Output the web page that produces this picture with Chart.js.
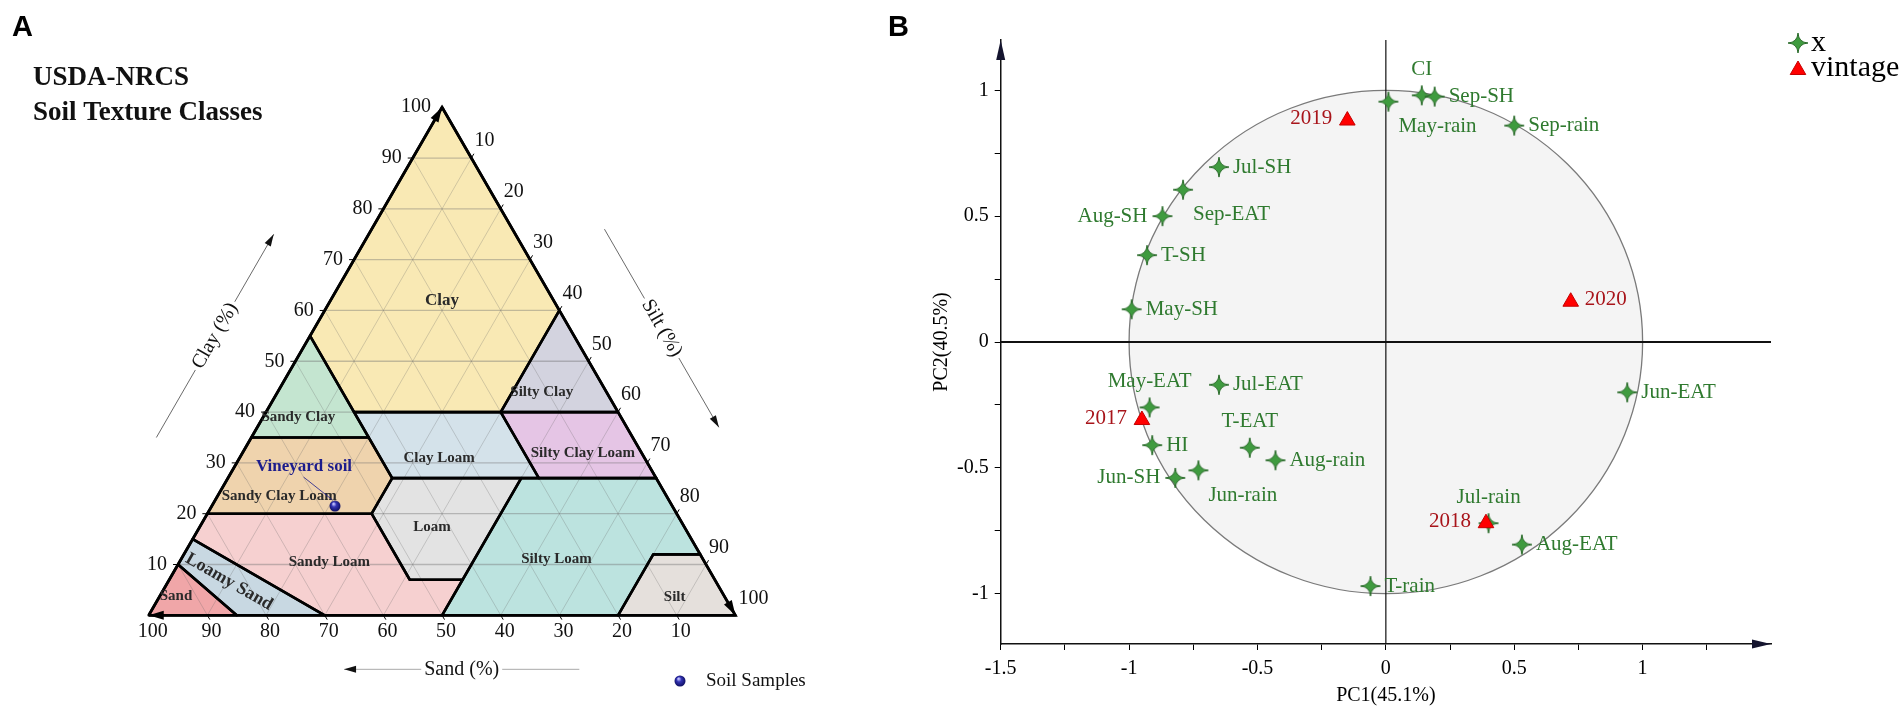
<!DOCTYPE html>
<html>
<head>
<meta charset="utf-8">
<script src="https://cdn.jsdelivr.net/npm/chart.js@4.4.1/dist/chart.umd.min.js"></script>
<style>
  html, body { margin: 0; padding: 0; background: #fff; overflow: hidden; }
  #wrap { position: relative; width: 1904px; height: 712px; }
  #soil { position: absolute; left: 0; top: 0; }
  #pca { position: absolute; left: 880px; top: 0; }
</style>
</head>
<body>
<div id="wrap">
  <canvas id="soil" width="880" height="712"></canvas>
  <canvas id="pca" width="1024" height="712"></canvas>
</div>
<script>
// ---- Panel A: USDA texture classes, vertices given as sand % and clay % (silt is the rest)
const classNames = ['Clay', 'Silty Clay', 'Sandy Clay', 'Clay Loam', 'Silty Clay Loam', 'Sandy Clay Loam',
  'Loam', 'Silty Loam', 'Silt', 'Sandy Loam', 'Loamy Sand', 'Sand'];
const classSand = [[0, 0, 20, 45, 45], [0, 0, 20], [45, 45, 65], [20, 45, 45, 20], [0, 20, 20, 0], [45, 65, 80, 52, 45],
  [45, 52, 52, 43, 23], [0, 23, 50, 20, 8, 0], [0, 8, 20, 0], [80, 52, 52, 43, 50, 70, 85], [85, 70, 85, 90], [90, 85, 100]];
const classClay = [[100, 60, 40, 40, 55], [60, 40, 40], [55, 35, 35], [40, 40, 27, 27], [40, 40, 27, 27], [35, 35, 20, 20, 27],
  [27, 20, 7, 7, 27], [27, 27, 0, 0, 12, 12], [12, 12, 0, 0], [20, 20, 7, 7, 0, 0, 15], [15, 0, 0, 10], [10, 0, 0]];
const classColors = ['#f9e9b4', '#d3d3df', '#c4e5d0', '#d4e2ea', '#e5c5e5', '#efd3ad',
  '#e3e3e3', '#bce3df', '#e5e0dc', '#f6d0d0', '#c8d8e2', '#f0a6a8'];
// where each class name sits (sand %, clay %)
const classLabelSand = [19, 11, 55, 35, 10, 66, 43, 25, 8.6, 64, 83, 93.5];
const classLabelClay = [62, 44, 39, 31, 32, 23.5, 17.4, 11, 3.5, 10.4, 6.6, 3.7];
const ternTicks = [10, 20, 30, 40, 50, 60, 70, 80, 90, 100];
const sampleSand = [57.5];
const sampleClay = [21.5];

// ---- Panel B: PCA loadings and vintages
const varNames = ['CI', 'Sep-SH', 'May-rain', 'Sep-rain', 'Jul-SH', 'Sep-EAT', 'Aug-SH', 'T-SH', 'May-SH', 'May-EAT',
  'Jul-EAT', 'HI', 'T-EAT', 'Aug-rain', 'Jun-SH', 'Jun-rain', 'Jun-EAT', 'Jul-rain', 'Aug-EAT', 'T-rain'];
const varPC1 = [0.14, 0.19, 0.01, 0.50, -0.65, -0.79, -0.87, -0.93, -0.99, -0.92,
  -0.65, -0.91, -0.53, -0.43, -0.82, -0.73, 0.94, 0.40, 0.53, -0.06];
const varPC2 = [0.98, 0.975, 0.955, 0.86, 0.695, 0.605, 0.50, 0.345, 0.13, -0.26,
  -0.17, -0.41, -0.42, -0.47, -0.54, -0.51, -0.20, -0.72, -0.805, -0.97];
const vintageNames = ['2017', '2018', '2019', '2020'];
const vintagePC1 = [-0.95, 0.39, -0.15, 0.72];
const vintagePC2 = [-0.31, -0.72, 0.88, 0.16];
const xTickVals = [-1.5, -1.25, -1, -0.75, -0.5, -0.25, 0, 0.25, 0.5, 0.75, 1, 1.25];
const xTickLabels = [-1.5, -1, -0.5, 0, 0.5, 1];
const yTickVals = [-1, -0.75, -0.5, -0.25, 0, 0.25, 0.5, 0.75, 1];
const yTickLabels = [-1, -0.5, 0, 0.5, 1];

// label placement (style, not data)
const varLabelPos = ['above', 'right', 'belowright', 'right', 'right', 'belowright', 'left', 'right', 'right', 'above',
  'right', 'right', 'above', 'right', 'left', 'belowright', 'right', 'above', 'right', 'right'];
const vintageLabelPos = ['left', 'left', 'left', 'right'];

const SERIF = '"Liberation Serif", "Times New Roman", serif';
const SANS = '"Liberation Sans", Arial, sans-serif';
const H = Math.sqrt(3) / 2;
const toXY = (sand, clay) => ({ x: 100 - sand - clay / 2, y: clay * H });

function makeStar(size, fill, stroke) {
  const c = document.createElement('canvas');
  c.width = c.height = size;
  const g = c.getContext('2d');
  const m = size / 2, r = size / 2 - 1, k = r * 0.06;
  g.beginPath();
  g.moveTo(m, m - r);
  g.quadraticCurveTo(m + k, m - k, m + r, m);
  g.quadraticCurveTo(m + k, m + k, m, m + r);
  g.quadraticCurveTo(m - k, m + k, m - r, m);
  g.quadraticCurveTo(m - k, m - k, m, m - r);
  g.closePath();
  g.fillStyle = fill; g.fill();
  g.strokeStyle = stroke; g.lineWidth = 1; g.stroke();
  return c;
}

function makeBall(d) {
  const c = document.createElement('canvas');
  c.width = c.height = d;
  const g = c.getContext('2d'), r = d / 2;
  const grad = g.createRadialGradient(r * 0.75, r * 0.6, r * 0.1, r, r, r);
  grad.addColorStop(0, '#c0c0ff');
  grad.addColorStop(0.35, '#3434b4');
  grad.addColorStop(1, '#0a0a5a');
  g.fillStyle = grad;
  g.beginPath(); g.arc(r, r, r - 0.5, 0, Math.PI * 2); g.fill();
  return c;
}

const starImg = makeStar(22, '#3f9b3f', '#2b6b2b');
const ballImg = makeBall(12);

function seg(ctx, a, b) { ctx.beginPath(); ctx.moveTo(a.x, a.y); ctx.lineTo(b.x, b.y); ctx.stroke(); }

function arrowHead(ctx, tip, from, len, half) {
  const dx = tip.x - from.x, dy = tip.y - from.y, d = Math.hypot(dx, dy), ux = dx / d, uy = dy / d;
  const bx = tip.x - ux * len, by = tip.y - uy * len;
  ctx.beginPath();
  ctx.moveTo(tip.x, tip.y);
  ctx.lineTo(bx - uy * half, by + ux * half);
  ctx.lineTo(bx + uy * half, by - ux * half);
  ctx.closePath(); ctx.fill();
}

// line with an arrow at b and a text break in the middle
function titledLine(ctx, a, b, text, lineColor, lineW) {
  const dx = b.x - a.x, dy = b.y - a.y, d = Math.hypot(dx, dy), ux = dx / d, uy = dy / d;
  const m = { x: (a.x + b.x) / 2, y: (a.y + b.y) / 2 };
  const w = ctx.measureText(text).width / 2 + 3;
  ctx.strokeStyle = lineColor; ctx.lineWidth = lineW;
  seg(ctx, a, { x: m.x - ux * w, y: m.y - uy * w });
  seg(ctx, { x: m.x + ux * w, y: m.y + uy * w }, b);
  ctx.fillStyle = '#111';
  arrowHead(ctx, b, a, 12, 3.5);
  let ang = Math.atan2(dy, dx);
  if (ang > Math.PI / 2 || ang < -Math.PI / 2) ang += Math.PI;
  ctx.save();
  ctx.translate(m.x, m.y); ctx.rotate(ang);
  ctx.textAlign = 'center'; ctx.textBaseline = 'middle';
  ctx.fillText(text, 0, 0);
  ctx.restore();
}

function ternPix(chart) {
  const xs = chart.scales.x, ys = chart.scales.y;
  return (sand, clay) => {
    const q = toXY(sand, clay);
    return { x: xs.getPixelForValue(q.x), y: ys.getPixelForValue(q.y) };
  };
}

const ternaryDecor = {
  id: 'ternaryDecor',
  beforeDatasetsDraw(chart) {
    const ctx = chart.ctx, P = ternPix(chart);
    ctx.save();
    chart.data.datasets.forEach((ds, i) => {
      if (!ds.areaColor) return;
      const pts = chart.getDatasetMeta(i).data;
      ctx.beginPath();
      pts.forEach((p, k) => (k ? ctx.lineTo(p.x, p.y) : ctx.moveTo(p.x, p.y)));
      ctx.closePath();
      ctx.fillStyle = ds.areaColor;
      ctx.fill();
    });
    // 10 % grid in the three directions
    ternTicks.slice(0, -1).forEach(k => {
      ctx.lineWidth = 1.3; ctx.strokeStyle = 'rgba(110,110,110,0.4)';
      seg(ctx, P(100 - k, k), P(0, k));
      ctx.lineWidth = 0.7; ctx.strokeStyle = 'rgba(105,105,105,0.4)';
      seg(ctx, P(k, 0), P(k, 100 - k));
      seg(ctx, P(100 - k, 0), P(0, 100 - k));
    });
    ctx.restore();
  },
  afterDatasetsDraw(chart) {
    const ctx = chart.ctx, P = ternPix(chart);
    ctx.save();
    // edge ticks and labels
    ctx.strokeStyle = '#000'; ctx.lineWidth = 1;
    ctx.font = '20px ' + SERIF; ctx.fillStyle = '#111'; ctx.textBaseline = 'middle';
    ternTicks.forEach(k => {
      let p = P(100 - k, k);
      if (k < 100) seg(ctx, p, { x: p.x - 5, y: p.y });
      ctx.textAlign = 'right'; ctx.fillText(String(k), p.x - 11, p.y);
      p = P(k, 0);
      if (k < 100) seg(ctx, p, { x: p.x + 2.5, y: p.y + 4.3 });
      ctx.textAlign = 'center'; ctx.fillText(String(k), p.x + 4, p.y + 16);
      p = P(0, 100 - k);
      if (k < 100) seg(ctx, p, { x: p.x + 2.5, y: p.y - 4.3 });
      ctx.textAlign = 'left'; ctx.fillText(String(k), p.x + 3, p.y - 17);
    });
    // direction arrows at the corners
    ctx.fillStyle = '#000';
    arrowHead(ctx, P(0, 100), P(100, 0), 15, 4.5);
    arrowHead(ctx, P(100, 0), P(0, 0), 15, 4.5);
    arrowHead(ctx, P(0, 0), P(0, 100), 15, 4.5);
    // axis titles with their arrows
    ctx.font = '20px ' + SERIF;
    const sh = (p, dx, dy) => ({ x: p.x + dx, y: p.y + dy });
    titledLine(ctx, sh(P(65, 35), -95, 0), sh(P(25, 75), -95, 0), 'Clay (%)', '#444', 0.8);
    titledLine(ctx, sh(P(0, 76), 92, 0), sh(P(0, 37), 92, 0), 'Silt (%)', '#444', 0.8);
    titledLine(ctx, sh(P(26.6, 0), 0, 54), sh(P(66.7, 0), 0, 54), 'Sand (%)', '#aaa', 1);
    // class names
    ctx.fillStyle = '#2a2a2a'; ctx.textAlign = 'center'; ctx.textBaseline = 'middle';
    classNames.forEach((name, i) => {
      const p = P(classLabelSand[i], classLabelClay[i]);
      if (name === 'Loamy Sand') {
        ctx.save();
        ctx.font = 'bold 18px ' + SERIF;
        ctx.translate(p.x, p.y); ctx.rotate(Math.PI / 6);
        ctx.fillText(name, 0, 0);
        ctx.restore();
      } else {
        ctx.font = (name === 'Clay' ? 'bold 17px ' : 'bold 15px ') + SERIF;
        ctx.fillText(name, p.x, p.y);
      }
    });
    // sample annotation
    const s = P(sampleSand[0], sampleClay[0]);
    ctx.strokeStyle = '#1c1c8c'; ctx.lineWidth = 0.8;
    seg(ctx, { x: s.x - 31.4, y: s.y - 29 }, { x: s.x - 2.4, y: s.y - 6 });
    ctx.font = 'bold 17px ' + SERIF; ctx.fillStyle = '#1c1c8c';
    ctx.fillText('Vineyard soil', s.x - 31, s.y - 39);
    // legend for the sample symbol
    ctx.drawImage(ballImg, 674, 675);
    ctx.font = '19px ' + SERIF; ctx.fillStyle = '#111'; ctx.textAlign = 'left';
    ctx.fillText('Soil Samples', 706, 681);
    // headings
    ctx.textBaseline = 'alphabetic';
    ctx.font = 'bold 27px ' + SERIF;
    ctx.fillText('USDA-NRCS', 33, 85);
    ctx.fillText('Soil Texture Classes', 33, 119.5);
    ctx.font = 'bold 29px ' + SANS; ctx.fillStyle = '#000';
    ctx.fillText('A', 12, 35.5);
    ctx.restore();
  }
};

const areaSets = classNames.map((name, i) => {
  const pts = classSand[i].map((s, k) => toXY(s, classClay[i][k]));
  pts.push(pts[0]);
  return {
    label: name, data: pts, showLine: true, areaColor: classColors[i],
    borderColor: '#000', borderWidth: 2.6, pointRadius: 0, borderJoinStyle: 'round', borderCapStyle: 'round'
  };
});

new Chart(document.getElementById('soil'), {
  type: 'scatter',
  data: {
    datasets: [
      { label: 'Soil Samples', data: sampleSand.map((s, k) => toXY(s, sampleClay[k])), pointStyle: ballImg, pointRadius: 6 },
      { label: 'frame', data: [toXY(100, 0), toXY(0, 0), toXY(0, 100), toXY(100, 0)], showLine: true,
        borderColor: '#000', borderWidth: 2.8, pointRadius: 0, borderJoinStyle: 'miter' },
      ...areaSets
    ]
  },
  options: {
    responsive: false, animation: false, events: [],
    layout: { padding: 0, autoPadding: false },
    scales: {
      x: { type: 'linear', min: -25.35, max: 124.65, display: false },
      y: { type: 'linear', min: -16.48, max: 104.88, display: false }
    },
    plugins: { legend: { display: false }, tooltip: { enabled: false } }
  },
  plugins: [ternaryDecor]
});

// ---- Panel B
const pcaDecor = {
  id: 'pcaDecor',
  beforeDatasetsDraw(chart) {
    const ctx = chart.ctx, xs = chart.scales.x, ys = chart.scales.y, a = chart.chartArea;
    const x0 = xs.getPixelForValue(0), y0 = ys.getPixelForValue(0);
    const rx = xs.getPixelForValue(1) - x0, ry = y0 - ys.getPixelForValue(1);
    ctx.save();
    ctx.beginPath();
    ctx.ellipse(x0, y0, rx, ry, 0, 0, Math.PI * 2);
    ctx.fillStyle = '#f4f4f4'; ctx.fill();
    ctx.strokeStyle = '#7a7a7a'; ctx.lineWidth = 1.3; ctx.stroke();
    ctx.strokeStyle = '#111';
    ctx.lineWidth = 2;
    seg(ctx, { x: a.left, y: y0 }, { x: a.right, y: y0 });
    ctx.lineWidth = 1.2;
    seg(ctx, { x: x0, y: a.top }, { x: x0, y: a.bottom });
    ctx.restore();
  },
  afterDatasetsDraw(chart) {
    const ctx = chart.ctx;
    ctx.save();
    ctx.font = '21px ' + SERIF;
    ctx.textBaseline = 'middle';
    chart.data.datasets.forEach((ds, i) => {
      chart.getDatasetMeta(i).data.forEach((pt, k) => {
        const pos = ds.labelPos[k];
        let x = pt.x, y = pt.y + ds.labelDy, align = 'left';
        if (pos === 'right') x += 14;
        else if (pos === 'left') { x -= 15; align = 'right'; }
        else if (pos === 'above') { y -= 26; align = 'center'; }
        else if (pos === 'belowright') { x += 10; y += 25; }
        ctx.textAlign = align;
        ctx.fillStyle = ds.labelColor;
        ctx.fillText(ds.names[k], x, y);
      });
    });
    ctx.restore();
  },
  afterDraw(chart) {
    const ctx = chart.ctx, a = chart.chartArea;
    ctx.save();
    ctx.fillStyle = '#14142e';
    arrowHead(ctx, { x: a.left, y: a.top }, { x: a.left, y: a.bottom }, 20, 4.5);
    arrowHead(ctx, { x: a.right, y: a.bottom }, { x: a.left, y: a.bottom }, 19, 4.5);
    // legend
    const items = chart.data.datasets;
    const rows = [43, 68];
    ctx.font = '30px ' + SERIF; ctx.textAlign = 'left'; ctx.textBaseline = 'alphabetic';
    items.forEach((ds, i) => {
      const y = rows[i];
      if (typeof ds.pointStyle === 'object') {
        ctx.drawImage(ds.pointStyle, 918 - ds.pointStyle.width / 2, y - ds.pointStyle.height / 2);
      } else {
        ctx.fillStyle = ds.backgroundColor; ctx.strokeStyle = ds.borderColor;
        Chart.helpers.drawPoint(ctx, { pointStyle: ds.pointStyle, radius: ds.pointRadius, borderWidth: ds.borderWidth }, 918, y + 2);
      }
      ctx.fillStyle = '#000';
      ctx.fillText(ds.label, 931, y + 7.5);
    });
    ctx.font = 'bold 29px ' + SANS;
    ctx.fillText('B', 8, 36);
    ctx.restore();
  }
};

const tickFont = { family: SERIF, size: 20 };
new Chart(document.getElementById('pca'), {
  type: 'scatter',
  data: {
    datasets: [
      {
        label: 'x', data: varPC1.map((v, i) => ({ x: v, y: varPC2[i] })), order: 1,
        names: varNames, labelPos: varLabelPos, labelColor: '#2f7a2f', labelDy: 0,
        pointStyle: starImg, pointRadius: 10, backgroundColor: '#3f9b3f', borderColor: '#2b6b2b'
      },
      {
        label: 'vintage', data: vintagePC1.map((v, i) => ({ x: v, y: vintagePC2[i] })), order: 0,
        names: vintageNames, labelPos: vintageLabelPos, labelColor: '#a8141a', labelDy: -2,
        pointStyle: 'triangle', pointRadius: 9, backgroundColor: '#ff0000', borderColor: '#c40000', borderWidth: 1
      }
    ]
  },
  options: {
    responsive: false, animation: false, events: [],
    layout: { padding: { left: 0, top: 40, right: 133, bottom: 0 }, autoPadding: false },
    scales: {
      x: {
        type: 'linear', min: -1.5, max: 1.5,
        afterFit: s => { s.height = 68; },
        afterBuildTicks: s => { s.ticks = xTickVals.map(v => ({ value: v })); },
        ticks: {
          autoSkip: false, maxRotation: 0, padding: 7, color: '#000', font: tickFont,
          callback: v => (xTickLabels.includes(v) ? String(v) : '')
        },
        grid: { drawOnChartArea: false, drawTicks: true, tickLength: 6, color: '#000', lineWidth: 1 },
        border: { display: true, color: '#111', width: 1.5 },
        title: { display: true, text: 'PC1(45.1%)', color: '#000', font: tickFont, padding: { top: 0, bottom: 4 } }
      },
      y: {
        type: 'linear', min: -1.2, max: 1.2,
        afterFit: s => { s.width = 120.7; },
        afterBuildTicks: s => { s.ticks = yTickVals.map(v => ({ value: v })); },
        ticks: {
          autoSkip: false, padding: 6, color: '#000', font: tickFont,
          callback: v => (yTickLabels.includes(v) ? String(v) : '')
        },
        grid: { drawOnChartArea: false, drawTicks: true, tickLength: 6, color: '#000', lineWidth: 1 },
        border: { display: true, color: '#111', width: 1.5 },
        title: { display: true, text: 'PC2(40.5%)', color: '#000', font: tickFont, padding: { top: 50, bottom: 0 } }
      }
    },
    plugins: { legend: { display: false }, tooltip: { enabled: false } }
  },
  plugins: [pcaDecor]
});
</script>
</body>
</html>
